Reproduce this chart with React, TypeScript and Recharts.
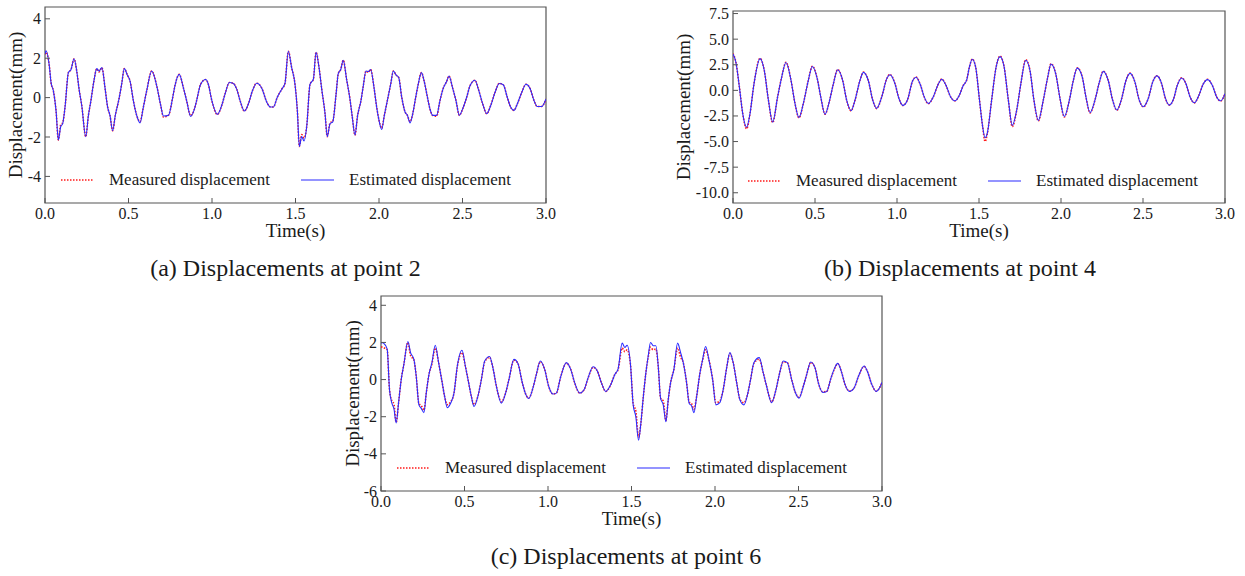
import React from 'react';
import { LineChart, Line, XAxis, YAxis, Legend, ReferenceArea } from 'recharts';

const SERIF = "'Liberation Serif', 'Times New Roman', serif";
const FRAME = '#555';
const TEXT = '#1a1a1a';

// shared time axis ticks (s)
const timeTicks = [0, 0.5, 1, 1.5, 2, 2.5, 3];

// ---- (a) point 2 ----
const timeA = [0, 0.006, 0.026, 0.036, 0.05, 0.066, 0.08, 0.094, 0.106, 0.12, 0.14, 0.156, 0.174, 0.19, 0.204, 0.22, 0.244, 0.26, 0.275, 0.293, 0.31, 0.323, 0.341, 0.359, 0.375, 0.389, 0.405, 0.421, 0.443, 0.459, 0.475, 0.493, 0.509, 0.529, 0.549, 0.569, 0.589, 0.609, 0.639, 0.669, 0.693, 0.709, 0.739, 0.765, 0.778, 0.804, 0.828, 0.848, 0.872, 0.892, 0.908, 0.932, 0.962, 0.978, 0.998, 1.032, 1.058, 1.078, 1.104, 1.128, 1.148, 1.168, 1.194, 1.218, 1.242, 1.268, 1.298, 1.328, 1.351, 1.367, 1.391, 1.418, 1.437, 1.457, 1.477, 1.497, 1.511, 1.523, 1.537, 1.551, 1.567, 1.587, 1.607, 1.623, 1.641, 1.657, 1.677, 1.69, 1.707, 1.723, 1.743, 1.756, 1.771, 1.786, 1.806, 1.826, 1.84, 1.856, 1.872, 1.892, 1.906, 1.922, 1.936, 1.95, 1.97, 1.986, 2.0, 2.016, 2.032, 2.05, 2.07, 2.086, 2.102, 2.118, 2.136, 2.156, 2.17, 2.186, 2.202, 2.22, 2.235, 2.254, 2.27, 2.29, 2.305, 2.321, 2.345, 2.365, 2.385, 2.405, 2.419, 2.441, 2.461, 2.481, 2.501, 2.525, 2.545, 2.575, 2.595, 2.621, 2.645, 2.669, 2.695, 2.72, 2.744, 2.768, 2.788, 2.808, 2.828, 2.855, 2.88, 2.904, 2.928, 2.948, 2.974, 3.0];
const estA = [2.2, 2.38, 1.6, 0.77, 0.35, -0.65, -2.15, -1.48, -1.32, -0.48, 1.27, 1.43, 1.97, 1.35, 0.43, -0.4, -1.98, -0.9, -0.15, 0.85, 1.47, 1.35, 1.52, 0.52, -0.48, -0.9, -1.68, -0.9, -0.07, 0.68, 1.47, 1.15, 0.85, -0.15, -0.9, -1.28, -0.48, 0.35, 1.35, 0.6, -0.4, -0.93, -0.9, 0.02, 0.6, 1.18, 0.52, -0.15, -0.95, -0.65, -0.15, 0.68, 0.92, 0.68, -0.12, -0.85, -0.4, 0.18, 0.77, 0.72, 0.43, -0.15, -0.68, -0.32, 0.35, 0.73, 0.48, -0.23, -0.48, -0.48, 0.02, 0.43, 0.72, 2.35, 1.52, 0.68, -0.65, -2.48, -1.98, -2.2, -1.48, 0.68, 0.93, 2.3, 1.52, 0.43, -0.82, -1.98, -1.32, -1.23, 0.18, 1.22, 1.43, 1.9, 0.93, -0.07, -0.98, -1.9, -0.9, -0.15, 0.6, 1.35, 1.32, 1.43, 0.52, -0.48, -1.15, -1.62, -0.9, -0.15, 0.68, 1.35, 1.15, 1.02, 0.02, -0.73, -0.9, -1.28, -0.82, 0.02, 0.68, 1.27, 0.85, 0.02, -0.57, -0.9, -0.9, -0.15, 0.48, 0.82, 1.1, 0.48, -0.15, -0.9, -0.57, 0.02, 0.6, 0.88, 0.43, -0.32, -0.82, -0.4, 0.27, 0.72, 0.65, 0.02, -0.48, -0.65, -0.32, 0.27, 0.68, 0.48, -0.15, -0.45, -0.45, -0.07];
const measA = [2.2, 2.3, 1.6, 0.77, 0.35, -0.65, -2.15, -1.38, -1.28, -0.48, 1.27, 1.43, 1.97, 1.35, 0.43, -0.4, -1.98, -0.9, -0.15, 0.85, 1.47, 1.3, 1.52, 0.52, -0.48, -0.9, -1.68, -0.9, -0.07, 0.68, 1.47, 1.15, 0.85, -0.15, -0.9, -1.22, -0.48, 0.35, 1.35, 0.6, -0.4, -0.98, -0.9, 0.02, 0.6, 1.18, 0.52, -0.15, -0.92, -0.65, -0.15, 0.68, 0.92, 0.68, -0.12, -0.85, -0.4, 0.18, 0.77, 0.72, 0.43, -0.15, -0.68, -0.32, 0.35, 0.73, 0.48, -0.23, -0.48, -0.48, 0.02, 0.43, 0.72, 2.35, 1.52, 0.68, -0.65, -2.48, -1.88, -2.05, -1.48, 0.68, 0.93, 2.3, 1.52, 0.43, -0.82, -1.98, -1.28, -1.2, 0.18, 1.22, 1.43, 1.9, 0.93, -0.07, -0.98, -1.9, -0.9, -0.15, 0.6, 1.35, 1.28, 1.43, 0.52, -0.48, -1.15, -1.55, -0.9, -0.15, 0.68, 1.35, 1.15, 1.02, 0.02, -0.73, -0.9, -1.22, -0.82, 0.02, 0.68, 1.27, 0.85, 0.02, -0.57, -0.9, -0.95, -0.15, 0.48, 0.82, 1.1, 0.48, -0.15, -0.9, -0.57, 0.02, 0.6, 0.88, 0.43, -0.32, -0.82, -0.4, 0.27, 0.72, 0.65, 0.02, -0.48, -0.65, -0.32, 0.27, 0.68, 0.48, -0.15, -0.45, -0.45, -0.07];
const ticksA = [-4, -2, 0, 2, 4];

// ---- (b) point 4 ----
const timeB = [0, 0.018, 0.039, 0.059, 0.083, 0.104, 0.128, 0.165, 0.191, 0.216, 0.242, 0.272, 0.297, 0.323, 0.354, 0.378, 0.402, 0.429, 0.459, 0.484, 0.514, 0.535, 0.561, 0.587, 0.612, 0.638, 0.669, 0.693, 0.72, 0.744, 0.774, 0.795, 0.825, 0.852, 0.876, 0.907, 0.937, 0.957, 0.988, 1.012, 1.035, 1.063, 1.096, 1.116, 1.144, 1.166, 1.191, 1.221, 1.248, 1.273, 1.299, 1.327, 1.354, 1.38, 1.404, 1.425, 1.441, 1.459, 1.48, 1.502, 1.522, 1.537, 1.551, 1.577, 1.604, 1.628, 1.652, 1.679, 1.703, 1.73, 1.755, 1.785, 1.811, 1.835, 1.862, 1.892, 1.919, 1.939, 1.968, 1.994, 2.02, 2.051, 2.075, 2.099, 2.13, 2.152, 2.177, 2.207, 2.234, 2.258, 2.288, 2.315, 2.34, 2.37, 2.396, 2.421, 2.451, 2.476, 2.502, 2.532, 2.559, 2.584, 2.614, 2.634, 2.66, 2.685, 2.709, 2.736, 2.762, 2.787, 2.813, 2.841, 2.868, 2.894, 2.923, 2.949, 2.974, 3.0];
const estB = [3.55, 2.72, 0.32, -2.24, -3.6, -2.24, 0.64, 3.1, 1.92, -0.96, -3.1, -0.64, 1.3, 2.72, 0.96, -1.28, -2.65, -1.28, 0.96, 2.33, 1.12, -0.64, -2.33, -1.12, 0.64, 2.01, 0.96, -0.96, -1.98, -0.96, 0.96, 1.76, 0.96, -0.96, -1.76, -0.64, 1.12, 1.53, 0.64, -0.8, -1.47, -0.96, 0.96, 1.28, 0.48, -0.64, -1.28, -0.64, 0.48, 1.09, 0.48, -0.64, -1.02, -0.48, 0.48, 1.02, 2.24, 3.04, 2.24, -0.8, -3.51, -4.63, -4.15, -0.96, 2.24, 3.29, 2.4, -0.96, -3.42, -1.92, 0.64, 2.94, 1.92, -0.96, -2.94, -0.96, 1.28, 2.56, 1.6, -0.8, -2.56, -0.96, 0.96, 2.17, 1.28, -0.64, -2.17, -0.96, 0.8, 1.85, 0.96, -0.96, -1.92, -0.8, 0.96, 1.66, 0.8, -0.9, -1.6, -0.8, 0.8, 1.41, 0.64, -0.64, -1.44, -0.9, 0.48, 1.21, 0.64, -0.64, -1.21, -0.48, 0.64, 1.05, 0.48, -0.64, -1.02, -0.32];
const measB = [3.6, 2.72, 0.32, -2.24, -3.75, -2.24, 0.64, 3.13, 1.92, -0.96, -3.15, -0.64, 1.3, 2.75, 0.96, -1.28, -2.68, -1.28, 0.96, 2.36, 1.12, -0.64, -2.33, -1.12, 0.64, 2.03, 0.96, -0.96, -2.0, -0.96, 0.96, 1.78, 0.96, -0.96, -1.78, -0.64, 1.12, 1.55, 0.64, -0.8, -1.47, -0.96, 0.96, 1.3, 0.48, -0.64, -1.3, -0.64, 0.48, 1.1, 0.48, -0.64, -1.02, -0.48, 0.48, 1.02, 2.24, 3.06, 2.24, -0.8, -3.51, -5.0, -4.2, -0.96, 2.24, 3.35, 2.4, -0.96, -3.55, -1.92, 0.64, 3.0, 1.92, -0.96, -2.98, -0.96, 1.28, 2.6, 1.6, -0.8, -2.6, -0.96, 0.96, 2.2, 1.28, -0.64, -2.2, -0.96, 0.8, 1.88, 0.96, -0.96, -1.94, -0.8, 0.96, 1.68, 0.8, -0.9, -1.62, -0.8, 0.8, 1.43, 0.64, -0.64, -1.44, -0.9, 0.48, 1.23, 0.64, -0.64, -1.22, -0.48, 0.64, 1.07, 0.48, -0.64, -1.04, -0.32];
const ticksB = [-10, -7.5, -5, -2.5, 0, 2.5, 5, 7.5];

// ---- (c) point 6 ----
const timeC = [0, 0.005, 0.021, 0.037, 0.051, 0.065, 0.077, 0.091, 0.105, 0.121, 0.137, 0.161, 0.177, 0.197, 0.211, 0.227, 0.241, 0.257, 0.271, 0.287, 0.305, 0.325, 0.345, 0.365, 0.381, 0.397, 0.417, 0.437, 0.457, 0.485, 0.505, 0.525, 0.541, 0.557, 0.58, 0.601, 0.621, 0.65, 0.67, 0.691, 0.721, 0.746, 0.766, 0.796, 0.82, 0.844, 0.864, 0.884, 0.91, 0.93, 0.954, 0.98, 1.004, 1.03, 1.05, 1.076, 1.11, 1.136, 1.16, 1.19, 1.216, 1.24, 1.27, 1.296, 1.32, 1.346, 1.376, 1.4, 1.42, 1.444, 1.46, 1.474, 1.494, 1.51, 1.526, 1.542, 1.556, 1.57, 1.586, 1.6, 1.614, 1.63, 1.646, 1.66, 1.674, 1.69, 1.706, 1.72, 1.734, 1.754, 1.776, 1.794, 1.81, 1.83, 1.845, 1.86, 1.874, 1.89, 1.91, 1.926, 1.944, 1.963, 1.986, 2.005, 2.029, 2.049, 2.07, 2.089, 2.109, 2.13, 2.149, 2.173, 2.193, 2.213, 2.233, 2.265, 2.289, 2.309, 2.339, 2.365, 2.385, 2.409, 2.433, 2.459, 2.479, 2.503, 2.529, 2.549, 2.573, 2.599, 2.619, 2.645, 2.669, 2.693, 2.713, 2.735, 2.759, 2.779, 2.805, 2.833, 2.859, 2.893, 2.912, 2.939, 2.965, 2.985, 3.0];
const estC = [1.95, 2.0, 1.91, 1.64, -0.55, -1.27, -1.55, -2.33, -1.27, 0, 0.82, 2.05, 1.45, 1.09, 0.18, -1.36, -1.55, -1.78, -0.73, 0.27, 0.91, 1.85, 0.91, -0.09, -0.91, -1.51, -1.27, -0.73, 0.73, 1.58, 0.73, -0.18, -0.91, -1.45, -0.91, 0, 1.0, 1.24, 0.64, -0.36, -1.27, -0.73, 0, 1.09, 0.87, -0.09, -0.73, -1.02, -0.45, 0.27, 1.0, 0.55, -0.36, -0.78, -0.73, 0.15, 0.91, 0.55, -0.18, -0.73, -0.55, 0.09, 0.69, 0.45, -0.18, -0.64, -0.27, 0.27, 0.58, 1.96, 1.73, 1.85, 0.8, -1.36, -2.0, -3.27, -2.36, -1.0, 0.36, 1.27, 2.0, 1.82, 1.82, 0.73, -1.0, -1.36, -2.27, -1.09, -0.18, 0.55, 1.96, 1.45, 0.91, -0.18, -1.27, -1.42, -1.78, -0.91, 0.36, 1.09, 1.78, 1.09, 0, -1.36, -1.24, -0.55, 0.64, 1.45, 0.91, -0.18, -1.09, -1.36, -0.87, 0, 0.91, 1.18, 0.36, -0.36, -1.24, -0.55, 0.27, 1.0, 0.91, 0, -0.64, -1.0, -0.36, 0.27, 0.95, 0.64, -0.18, -0.69, -0.64, 0.04, 0.55, 0.87, 0.36, -0.27, -0.64, -0.45, 0.18, 0.73, 0.45, -0.27, -0.64, -0.45, -0.15];
const measC = [1.75, 1.75, 1.7, 1.6, -0.55, -1.15, -1.3, -2.3, -1.27, 0, 0.82, 2.0, 1.3, 1.05, 0.18, -1.3, -1.4, -1.65, -0.73, 0.27, 0.85, 1.7, 0.91, -0.09, -0.91, -1.35, -1.2, -0.73, 0.7, 1.45, 0.73, -0.18, -0.91, -1.35, -0.91, 0, 0.95, 1.2, 0.64, -0.36, -1.2, -0.73, 0, 1.05, 0.87, -0.09, -0.73, -1.0, -0.45, 0.27, 0.95, 0.55, -0.36, -0.78, -0.73, 0.15, 0.88, 0.55, -0.18, -0.73, -0.55, 0.09, 0.66, 0.45, -0.18, -0.64, -0.27, 0.27, 0.55, 1.7, 1.5, 1.6, 0.8, -1.3, -1.7, -3.1, -2.36, -1.0, 0.36, 1.2, 1.75, 1.6, 1.65, 0.73, -1.0, -1.15, -2.2, -1.09, -0.18, 0.55, 1.7, 1.2, 0.91, -0.18, -1.2, -1.3, -1.6, -0.91, 0.36, 1.05, 1.6, 1.09, 0, -1.25, -1.15, -0.55, 0.64, 1.4, 0.91, -0.18, -1.05, -1.25, -0.87, 0, 0.88, 1.1, 0.36, -0.36, -1.2, -0.55, 0.27, 0.95, 0.91, 0, -0.64, -0.95, -0.36, 0.27, 0.92, 0.64, -0.18, -0.66, -0.64, 0.04, 0.52, 0.85, 0.36, -0.27, -0.62, -0.45, 0.18, 0.7, 0.45, -0.27, -0.62, -0.45, -0.15];
const ticksC = [-6, -4, -2, 0, 2, 4];

const seriesNames = ['Measured displacement', 'Estimated displacement'];
const seriesColors = ['#ff1a1a', '#2b2bff'];

const buildRows = (time: number[], meas: number[], est: number[]) =>
  time.map((t, i) => ({ t, measured: meas[i], estimated: est[i] }));

const XTick = ({ x, y, payload }: any) => (
  <g>
    <line x1={x} x2={x} y1={y - 4} y2={y - 9} stroke={FRAME} strokeWidth={1} />
    <text x={x} y={y + 11.5} textAnchor="middle" fontFamily={SERIF} fontSize={16} fill={TEXT}>
      {Number(payload.value).toFixed(1)}
    </text>
  </g>
);

const makeYTick = (digits: number) => ({ x, y, payload }: any) => (
  <g>
    <line x1={x + 4} x2={x + 9} y1={y} y2={y} stroke={FRAME} strokeWidth={1} />
    <text x={x} y={y + 5.5} textAnchor="end" fontFamily={SERIF} fontSize={16} fill={TEXT}>
      {Number(payload.value).toFixed(digits)}
    </text>
  </g>
);

const AxisTitle = ({ px, py, text, vertical }: any) => (
  <text
    x={px}
    y={py}
    textAnchor="middle"
    fontFamily={SERIF}
    fontSize={19}
    fill={TEXT}
    transform={vertical ? `rotate(-90 ${px} ${py})` : undefined}
    dominantBaseline={vertical ? 'central' : undefined}
  >
    {text}
  </text>
);

const LegendRow = () => (
  <div style={{ display: 'flex', fontFamily: SERIF, fontSize: 17, color: TEXT, lineHeight: '20px' }}>
    {seriesNames.map((name, i) => (
      <div key={name} style={{ display: 'flex', alignItems: 'center', width: 240 }}>
        <svg width={33} height={6} style={{ marginRight: 15 }}>
          <line x1={0} x2={33} y1={3} y2={3} stroke={seriesColors[i]} strokeWidth={i === 0 ? 1.6 : 1.2}
            strokeDasharray={i === 0 ? '1.5 1.5' : undefined} />
        </svg>
        <span>{name}</span>
      </div>
    ))}
  </div>
);

type PanelProps = {
  left: number; top: number; width: number; height: number;
  yWidth: number; xHeight: number; margin: any;
  rows: any[]; yDomain: [number, number]; yTicks: number[]; yDigits: number;
  yTitleX: number; legendLeft: number; legendTop: number;
};

const Panel = (p: PanelProps) => {
  const plotLeft = p.yWidth + p.margin.left;
  const plotRight = p.width - p.margin.right;
  const plotTop = p.margin.top;
  const plotBottom = p.height - p.margin.bottom - p.xHeight;
  return (
    <div style={{ position: 'absolute', left: p.left, top: p.top }}>
      <LineChart width={p.width} height={p.height} data={p.rows} margin={p.margin}>
        <XAxis
          dataKey="t" type="number" domain={[0, 3]} ticks={timeTicks} height={p.xHeight}
          tickLine={false} tickSize={0} tickMargin={4} axisLine={false} tick={<XTick />}
          allowDataOverflow
          label={<AxisTitle px={(plotLeft + plotRight) / 2} py={plotBottom + 34} text="Time(s)" />}
        />
        <YAxis
          type="number" domain={p.yDomain} ticks={p.yTicks} width={p.yWidth}
          tickLine={false} tickSize={0} tickMargin={4} axisLine={false} tick={makeYTick(p.yDigits)}
          allowDataOverflow interval={0}
          label={<AxisTitle px={p.yTitleX} py={(plotTop + plotBottom) / 2} text="Displacement(mm)" vertical />}
        />
        <ReferenceArea x1={0} x2={3} y1={p.yDomain[0]} y2={p.yDomain[1]} fill="none" stroke={FRAME} strokeWidth={1.2} ifOverflow="visible" />
        <Legend
          layout="horizontal" verticalAlign="middle" align="center"
          content={() => <LegendRow />}
          wrapperStyle={{ left: p.legendLeft, top: p.legendTop, width: 500 }}
        />
        <Line type="monotone" dataKey="measured" name={seriesNames[0]} stroke={seriesColors[0]} strokeWidth={1.6}
          strokeDasharray="1.5 1.5" dot={false} isAnimationActive={false} />
        <Line type="monotone" dataKey="estimated" name={seriesNames[1]} stroke={seriesColors[1]} strokeWidth={1.1}
          dot={false} isAnimationActive={false} />
      </LineChart>
    </div>
  );
};

const Caption = ({ cx, cy, text }: any) => (
  <div style={{
    position: 'absolute', left: cx - 250, top: cy - 15, width: 500, height: 30, lineHeight: '30px',
    textAlign: 'center', fontFamily: SERIF, fontSize: 24, color: TEXT,
  }}>
    {text}
  </div>
);

export default function App() {
  return (
    <div style={{ position: 'absolute', left: 0, top: 0, width: 1245, height: 576, background: '#fff', overflow: 'hidden' }}>
      <Panel left={0} top={0} width={560} height={245} yWidth={45} xHeight={40}
        margin={{ top: 7, right: 14, bottom: 2, left: 0 }}
        rows={buildRows(timeA, measA, estA)} yDomain={[-5.35, 4.6]} yTicks={ticksA} yDigits={0}
        yTitleX={15} legendLeft={61} legendTop={170} />
      <Panel left={665} top={0} width={580} height={245} yWidth={68} xHeight={40}
        margin={{ top: 11, right: 20, bottom: 2, left: 0 }}
        rows={buildRows(timeB, measB, estB)} yDomain={[-11, 7.75]} yTicks={ticksB} yDigits={1}
        yTitleX={18} legendLeft={83} legendTop={171} />
      <Panel left={330} top={288} width={570} height={250} yWidth={51} xHeight={45}
        margin={{ top: 8, right: 18, bottom: 2, left: 0 }}
        rows={buildRows(timeC, measC, estC)} yDomain={[-6, 4.5]} yTicks={ticksC} yDigits={0}
        yTitleX={22} legendLeft={67} legendTop={170} />
      <Caption cx={285.5} cy={268} text="(a) Displacements at point 2" />
      <Caption cx={960} cy={268} text="(b) Displacements at point 4" />
      <Caption cx={626} cy={556} text="(c) Displacements at point 6" />
    </div>
  );
}
